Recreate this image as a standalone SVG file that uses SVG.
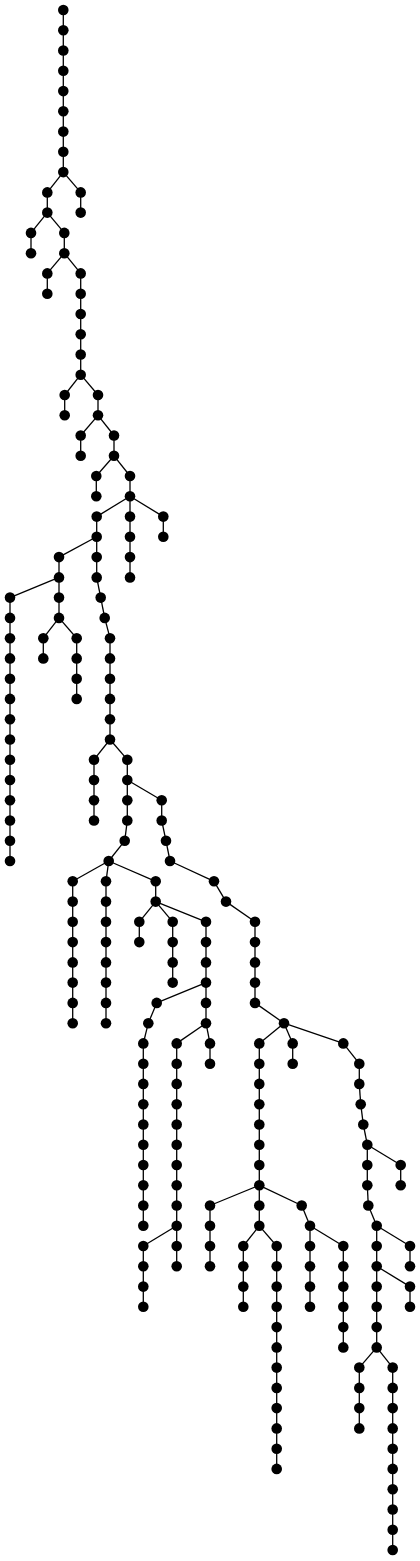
<svg xmlns="http://www.w3.org/2000/svg" width="420" height="1561" viewBox="0 0 420 1561">
<style>
#edges path{stroke:#000;stroke-width:1.3;fill:none}
.nodes circle{fill:#000;stroke:none}
</style>
<rect width="420" height="1561" fill="#fff"/>
<g id="edges">
<path d="M63.3 10V30.3"/><path d="M63.3 30.3V50.5"/><path d="M63.3 50.5V70.8"/><path d="M63.3 70.8V91.1"/><path d="M63.3 91.1V111.3"/><path d="M63.3 111.3V131.6"/><path d="M63.3 131.6V151.8"/><path d="M63.3 151.8V172.1"/>
<path d="M63.3 172.1L80.7 192.4"/><path d="M80.7 192.4V212.6"/>
<path d="M63.3 172.1L47.3 192.4"/><path d="M47.3 192.4V212.6"/>
<path d="M47.3 212.6L31 232.9"/><path d="M31 232.9V253.2"/>
<path d="M47.3 212.6L64.3 232.9"/><path d="M64.3 232.9V253.2"/>
<path d="M64.3 253.2L47.3 273.4"/><path d="M47.3 273.4V293.7"/>
<path d="M64.3 253.2L80.7 273.4"/><path d="M80.7 273.4V293.7"/><path d="M80.7 293.7V314"/><path d="M80.7 314V334.2"/><path d="M80.7 334.2V354.5"/><path d="M80.7 354.5V374.7"/>
<path d="M80.7 374.7L64.7 395"/><path d="M64.7 395V415.3"/>
<path d="M80.7 374.7L98 395"/><path d="M98 395V415.3"/>
<path d="M98 415.3L80.7 435.5"/><path d="M80.7 435.5V455.8"/>
<path d="M98 415.3L114 435.5"/><path d="M114 435.5V455.8"/>
<path d="M114 455.8L96.3 476"/><path d="M96.3 476V496.3"/>
<path d="M114 455.8L130 476"/><path d="M130 476V496.3"/>
<path d="M130 496.3L163.3 516.6"/><path d="M163.3 516.6V536.8"/>
<path d="M130 496.3V516.6"/><path d="M130 516.6V536.8"/><path d="M130 536.8V557.1"/><path d="M130 557.1V577.4"/>
<path d="M130 496.3L96.7 516.6"/><path d="M96.7 516.6V536.8"/>
<path d="M96.7 536.8L59 557.1"/><path d="M59 557.1V577.4"/>
<path d="M59 577.4L10 597.6"/><path d="M10 597.6V617.9"/><path d="M10 617.9V638.2"/><path d="M10 638.2V658.4"/><path d="M10 658.4V678.7"/><path d="M10 678.7V698.9"/><path d="M10 698.9V719.2"/><path d="M10 719.2V739.5"/><path d="M10 739.5V759.7"/><path d="M10 759.7V780"/><path d="M10 780V800.3"/><path d="M10 800.3V820.5"/><path d="M10 820.5V840.8"/><path d="M10 840.8V861"/>
<path d="M59 577.4V597.6"/><path d="M59 597.6V617.9"/>
<path d="M59 617.9L43.3 638.2"/><path d="M43.3 638.2V658.4"/>
<path d="M59 617.9L76.7 638.2"/><path d="M76.7 638.2V658.4"/><path d="M76.7 658.4V678.7"/><path d="M76.7 678.7V698.9"/>
<path d="M96.7 536.8V557.1"/><path d="M96.7 557.1V577.4"/><path d="M96.7 577.4L100.7 597.6"/><path d="M100.7 597.6L104.7 617.9"/><path d="M104.7 617.9L110 638.2"/>
<path d="M110 638.2V658.4"/><path d="M110 658.4V678.7"/><path d="M110 678.7V698.9"/><path d="M110 698.9V719.2"/><path d="M110 719.2V739.5"/>
<path d="M110 739.5L94 759.7"/><path d="M94 759.7V780"/><path d="M94 780V800.3"/><path d="M94 800.3V820.5"/>
<path d="M110 739.5L127.3 759.7"/><path d="M127.3 759.7V780"/>
<path d="M127.3 780V800.3"/><path d="M127.3 800.3V820.5"/><path d="M127.3 820.5L124.7 840.8"/><path d="M124.7 840.8L108.7 861"/>
<path d="M127.3 780L161.7 800.3"/><path d="M161.7 800.3V820.5"/><path d="M161.7 820.5L166 840.8"/><path d="M166 840.8L170 861"/><path d="M170 861L214 881.3"/><path d="M214 881.3L226 901.6"/><path d="M226 901.6L255 921.8"/>
<path d="M255 921.8V942.1"/><path d="M255 942.1V962.4"/><path d="M255 962.4V982.6"/><path d="M255 982.6V1002.9"/><path d="M255 1002.9L284 1023.2"/>
<path d="M108.7 861L72.7 881.3"/><path d="M72.7 881.3V901.6"/><path d="M72.7 901.6V921.8"/><path d="M72.7 921.8V942.1"/><path d="M72.7 942.1V962.4"/><path d="M72.7 962.4V982.6"/><path d="M72.7 982.6V1002.9"/><path d="M72.7 1002.9V1023.2"/>
<path d="M108.7 861L106 881.3"/><path d="M106 881.3V901.6"/><path d="M106 901.6V921.8"/><path d="M106 921.8V942.1"/><path d="M106 942.1V962.4"/><path d="M106 962.4V982.6"/><path d="M106 982.6V1002.9"/><path d="M106 1002.9V1023.2"/>
<path d="M108.7 861L155.7 881.3"/><path d="M155.7 881.3V901.6"/>
<path d="M155.7 901.6L139.3 921.8"/><path d="M139.3 921.8V942.1"/>
<path d="M155.7 901.6L172.7 921.8"/><path d="M172.7 921.8V942.1"/><path d="M172.7 942.1V962.4"/><path d="M172.7 962.4V982.6"/>
<path d="M155.7 901.6L206 921.8"/><path d="M206 921.8V942.1"/><path d="M206 942.1V962.4"/><path d="M206 962.4V982.6"/>
<path d="M206 982.6L156.7 1002.9"/><path d="M156.7 1002.9L148.3 1023.2"/><path d="M148.3 1023.2L143.3 1043.4"/>
<path d="M143.3 1043.4V1063.7"/><path d="M143.3 1063.7V1083.9"/><path d="M143.3 1083.9V1104.2"/><path d="M143.3 1104.2V1124.5"/><path d="M143.3 1124.5V1144.7"/><path d="M143.3 1144.7V1165"/><path d="M143.3 1165V1185.3"/><path d="M143.3 1185.3V1205.5"/><path d="M143.3 1205.5V1225.8"/>
<path d="M206 982.6V1002.9"/><path d="M206 1002.9V1023.2"/>
<path d="M206 1023.2L210 1043.4"/><path d="M210 1043.4V1063.7"/>
<path d="M206 1023.2L176.7 1043.4"/><path d="M176.7 1043.4V1063.7"/><path d="M176.7 1063.7V1083.9"/><path d="M176.7 1083.9V1104.2"/><path d="M176.7 1104.2V1124.5"/><path d="M176.7 1124.5V1144.7"/><path d="M176.7 1144.7V1165"/><path d="M176.7 1165V1185.3"/><path d="M176.7 1185.3V1205.5"/><path d="M176.7 1205.5V1225.8"/>
<path d="M176.7 1225.8L143.3 1246"/><path d="M143.3 1246V1266.3"/><path d="M143.3 1266.3V1286.6"/><path d="M143.3 1286.6V1306.8"/>
<path d="M176.7 1225.8V1246"/><path d="M176.7 1246V1266.3"/>
<path d="M284 1023.2L259.3 1043.4"/><path d="M259.3 1043.4V1063.7"/><path d="M259.3 1063.7V1083.9"/><path d="M259.3 1083.9V1104.2"/><path d="M259.3 1104.2V1124.5"/><path d="M259.3 1124.5V1144.7"/><path d="M259.3 1144.7V1165"/><path d="M259.3 1165V1185.3"/>
<path d="M284 1023.2L292.7 1043.4"/><path d="M292.7 1043.4V1063.7"/>
<path d="M284 1023.2L343.3 1043.4"/><path d="M343.3 1043.4L359.3 1063.7"/><path d="M359.3 1063.7V1083.9"/><path d="M359.3 1083.9L360.7 1104.2"/><path d="M360.7 1104.2L363.3 1124.5"/><path d="M363.3 1124.5L367.3 1144.7"/>
<path d="M259.3 1185.3L210 1205.5"/><path d="M210 1205.5V1225.8"/><path d="M210 1225.8V1246"/><path d="M210 1246V1266.3"/>
<path d="M259.3 1185.3V1205.5"/><path d="M259.3 1205.5V1225.8"/>
<path d="M259.3 1185.3L301.7 1205.5"/><path d="M301.7 1205.5L310 1225.8"/>
<path d="M259.3 1225.8L243.3 1246"/><path d="M243.3 1246V1266.3"/><path d="M243.3 1266.3V1286.6"/><path d="M243.3 1286.6V1306.8"/>
<path d="M259.3 1225.8L276.7 1246"/><path d="M276.7 1246V1266.3"/><path d="M276.7 1266.3V1286.6"/><path d="M276.7 1286.6V1306.8"/><path d="M276.7 1306.8V1327.1"/><path d="M276.7 1327.1V1347.4"/><path d="M276.7 1347.4V1367.6"/><path d="M276.7 1367.6V1387.9"/><path d="M276.7 1387.9V1408.1"/><path d="M276.7 1408.1V1428.4"/><path d="M276.7 1428.4V1448.7"/><path d="M276.7 1448.7V1468.9"/>
<path d="M310 1225.8V1246"/><path d="M310 1246V1266.3"/><path d="M310 1266.3V1286.6"/><path d="M310 1286.6V1306.8"/>
<path d="M310 1225.8L343.3 1246"/><path d="M343.3 1246V1266.3"/><path d="M343.3 1266.3V1286.6"/><path d="M343.3 1286.6V1306.8"/><path d="M343.3 1306.8V1327.1"/><path d="M343.3 1327.1V1347.4"/>
<path d="M367.3 1144.7L400.7 1165"/><path d="M400.7 1165V1185.3"/>
<path d="M367.3 1144.7V1165"/><path d="M367.3 1165V1185.3"/><path d="M367.3 1185.3L368.3 1205.5"/><path d="M368.3 1205.5L376.7 1225.8"/>
<path d="M376.7 1225.8L410 1246"/><path d="M410 1246V1266.3"/>
<path d="M376.7 1225.8V1246"/><path d="M376.7 1246V1266.3"/>
<path d="M376.7 1266.3L410 1286.6"/><path d="M410 1286.6V1306.8"/>
<path d="M376.7 1266.3V1286.6"/><path d="M376.7 1286.6V1306.8"/><path d="M376.7 1306.8V1327.1"/><path d="M376.7 1327.1V1347.4"/>
<path d="M376.7 1347.4L359.3 1367.6"/><path d="M359.3 1367.6V1387.9"/><path d="M359.3 1387.9V1408.1"/><path d="M359.3 1408.1V1428.4"/>
<path d="M376.7 1347.4L392.7 1367.6"/><path d="M392.7 1367.6V1387.9"/><path d="M392.7 1387.9V1408.1"/><path d="M392.7 1408.1V1428.4"/><path d="M392.7 1428.4V1448.7"/><path d="M392.7 1448.7V1468.9"/><path d="M392.7 1468.9V1489.2"/><path d="M392.7 1489.2V1509.5"/><path d="M392.7 1509.5V1529.7"/><path d="M392.7 1529.7V1550"/>
</g>
<g class="nodes">
<g id="nA0"><circle cx="63.3" cy="10" r="5.3"/></g>
<g id="nA1"><circle cx="63.3" cy="30.3" r="5.3"/></g>
<g id="nA2"><circle cx="63.3" cy="50.5" r="5.3"/></g>
<g id="nA3"><circle cx="63.3" cy="70.8" r="5.3"/></g>
<g id="nA4"><circle cx="63.3" cy="91.1" r="5.3"/></g>
<g id="nA5"><circle cx="63.3" cy="111.3" r="5.3"/></g>
<g id="nA6"><circle cx="63.3" cy="131.6" r="5.3"/></g>
<g id="nA7"><circle cx="63.3" cy="151.8" r="5.3"/></g>
<g id="nA8"><circle cx="63.3" cy="172.1" r="5.3"/></g>
<g id="nB0"><circle cx="80.7" cy="192.4" r="5.3"/></g>
<g id="nB1"><circle cx="80.7" cy="212.6" r="5.3"/></g>
<g id="nC0"><circle cx="47.3" cy="192.4" r="5.3"/></g>
<g id="nC1"><circle cx="47.3" cy="212.6" r="5.3"/></g>
<g id="nD0"><circle cx="31" cy="232.9" r="5.3"/></g>
<g id="nD1"><circle cx="31" cy="253.2" r="5.3"/></g>
<g id="nE0"><circle cx="64.3" cy="232.9" r="5.3"/></g>
<g id="nE1"><circle cx="64.3" cy="253.2" r="5.3"/></g>
<g id="nF0"><circle cx="47.3" cy="273.4" r="5.3"/></g>
<g id="nF1"><circle cx="47.3" cy="293.7" r="5.3"/></g>
<g id="nG0"><circle cx="80.7" cy="273.4" r="5.3"/></g>
<g id="nG1"><circle cx="80.7" cy="293.7" r="5.3"/></g>
<g id="nG2"><circle cx="80.7" cy="314" r="5.3"/></g>
<g id="nG3"><circle cx="80.7" cy="334.2" r="5.3"/></g>
<g id="nG4"><circle cx="80.7" cy="354.5" r="5.3"/></g>
<g id="nG5"><circle cx="80.7" cy="374.7" r="5.3"/></g>
<g id="nH0"><circle cx="64.7" cy="395" r="5.3"/></g>
<g id="nH1"><circle cx="64.7" cy="415.3" r="5.3"/></g>
<g id="nI0"><circle cx="98" cy="395" r="5.3"/></g>
<g id="nI1"><circle cx="98" cy="415.3" r="5.3"/></g>
<g id="nJ0"><circle cx="80.7" cy="435.5" r="5.3"/></g>
<g id="nJ1"><circle cx="80.7" cy="455.8" r="5.3"/></g>
<g id="nK0"><circle cx="114" cy="435.5" r="5.3"/></g>
<g id="nK1"><circle cx="114" cy="455.8" r="5.3"/></g>
<g id="nL0"><circle cx="96.3" cy="476" r="5.3"/></g>
<g id="nL1"><circle cx="96.3" cy="496.3" r="5.3"/></g>
<g id="nM0"><circle cx="130" cy="476" r="5.3"/></g>
<g id="nM1"><circle cx="130" cy="496.3" r="5.3"/></g>
<g id="nN0"><circle cx="163.3" cy="516.6" r="5.3"/></g>
<g id="nN1"><circle cx="163.3" cy="536.8" r="5.3"/></g>
<g id="nO0"><circle cx="130" cy="516.6" r="5.3"/></g>
<g id="nO1"><circle cx="130" cy="536.8" r="5.3"/></g>
<g id="nO2"><circle cx="130" cy="557.1" r="5.3"/></g>
<g id="nO3"><circle cx="130" cy="577.4" r="5.3"/></g>
<g id="nP0"><circle cx="96.7" cy="516.6" r="5.3"/></g>
<g id="nP1"><circle cx="96.7" cy="536.8" r="5.3"/></g>
<g id="nQ0"><circle cx="59" cy="557.1" r="5.3"/></g>
<g id="nQ1"><circle cx="59" cy="577.4" r="5.3"/></g>
<g id="nR0"><circle cx="10" cy="597.6" r="5.3"/></g>
<g id="nR1"><circle cx="10" cy="617.9" r="5.3"/></g>
<g id="nR2"><circle cx="10" cy="638.2" r="5.3"/></g>
<g id="nR3"><circle cx="10" cy="658.4" r="5.3"/></g>
<g id="nR4"><circle cx="10" cy="678.7" r="5.3"/></g>
<g id="nR5"><circle cx="10" cy="698.9" r="5.3"/></g>
<g id="nR6"><circle cx="10" cy="719.2" r="5.3"/></g>
<g id="nR7"><circle cx="10" cy="739.5" r="5.3"/></g>
<g id="nR8"><circle cx="10" cy="759.7" r="5.3"/></g>
<g id="nR9"><circle cx="10" cy="780" r="5.3"/></g>
<g id="nR10"><circle cx="10" cy="800.3" r="5.3"/></g>
<g id="nR11"><circle cx="10" cy="820.5" r="5.3"/></g>
<g id="nR12"><circle cx="10" cy="840.8" r="5.3"/></g>
<g id="nR13"><circle cx="10" cy="861" r="5.3"/></g>
<g id="nS0"><circle cx="59" cy="597.6" r="5.3"/></g>
<g id="nS1"><circle cx="59" cy="617.9" r="5.3"/></g>
<g id="nT0"><circle cx="43.3" cy="638.2" r="5.3"/></g>
<g id="nT1"><circle cx="43.3" cy="658.4" r="5.3"/></g>
<g id="nU0"><circle cx="76.7" cy="638.2" r="5.3"/></g>
<g id="nU1"><circle cx="76.7" cy="658.4" r="5.3"/></g>
<g id="nU2"><circle cx="76.7" cy="678.7" r="5.3"/></g>
<g id="nU3"><circle cx="76.7" cy="698.9" r="5.3"/></g>
<g id="nV0"><circle cx="96.7" cy="557.1" r="5.3"/></g>
<g id="nV1"><circle cx="96.7" cy="577.4" r="5.3"/></g>
<g id="nV2"><circle cx="100.7" cy="597.6" r="5.3"/></g>
<g id="nV3"><circle cx="104.7" cy="617.9" r="5.3"/></g>
<g id="nV4"><circle cx="110" cy="638.2" r="5.3"/></g>
<g id="nV5"><circle cx="110" cy="658.4" r="5.3"/></g>
<g id="nV6"><circle cx="110" cy="678.7" r="5.3"/></g>
<g id="nV7"><circle cx="110" cy="698.9" r="5.3"/></g>
<g id="nV8"><circle cx="110" cy="719.2" r="5.3"/></g>
<g id="nV9"><circle cx="110" cy="739.5" r="5.3"/></g>
<g id="nW0"><circle cx="94" cy="759.7" r="5.3"/></g>
<g id="nW1"><circle cx="94" cy="780" r="5.3"/></g>
<g id="nW2"><circle cx="94" cy="800.3" r="5.3"/></g>
<g id="nW3"><circle cx="94" cy="820.5" r="5.3"/></g>
<g id="nX0"><circle cx="127.3" cy="759.7" r="5.3"/></g>
<g id="nX1"><circle cx="127.3" cy="780" r="5.3"/></g>
<g id="nY0"><circle cx="127.3" cy="800.3" r="5.3"/></g>
<g id="nY1"><circle cx="127.3" cy="820.5" r="5.3"/></g>
<g id="nY2"><circle cx="124.7" cy="840.8" r="5.3"/></g>
<g id="nY3"><circle cx="108.7" cy="861" r="5.3"/></g>
<g id="nZ0"><circle cx="161.7" cy="800.3" r="5.3"/></g>
<g id="nZ1"><circle cx="161.7" cy="820.5" r="5.3"/></g>
<g id="nZ2"><circle cx="166" cy="840.8" r="5.3"/></g>
<g id="nZ3"><circle cx="170" cy="861" r="5.3"/></g>
<g id="nZ4"><circle cx="214" cy="881.3" r="5.3"/></g>
<g id="nZ5"><circle cx="226" cy="901.6" r="5.3"/></g>
<g id="nZ6"><circle cx="255" cy="921.8" r="5.3"/></g>
<g id="nZ7"><circle cx="255" cy="942.1" r="5.3"/></g>
<g id="nZ8"><circle cx="255" cy="962.4" r="5.3"/></g>
<g id="nZ9"><circle cx="255" cy="982.6" r="5.3"/></g>
<g id="nZ10"><circle cx="255" cy="1002.9" r="5.3"/></g>
<g id="nZ11"><circle cx="284" cy="1023.2" r="5.3"/></g>
<g id="nAA0"><circle cx="72.7" cy="881.3" r="5.3"/></g>
<g id="nAA1"><circle cx="72.7" cy="901.6" r="5.3"/></g>
<g id="nAA2"><circle cx="72.7" cy="921.8" r="5.3"/></g>
<g id="nAA3"><circle cx="72.7" cy="942.1" r="5.3"/></g>
<g id="nAA4"><circle cx="72.7" cy="962.4" r="5.3"/></g>
<g id="nAA5"><circle cx="72.7" cy="982.6" r="5.3"/></g>
<g id="nAA6"><circle cx="72.7" cy="1002.9" r="5.3"/></g>
<g id="nAA7"><circle cx="72.7" cy="1023.2" r="5.3"/></g>
<g id="nAB0"><circle cx="106" cy="881.3" r="5.3"/></g>
<g id="nAB1"><circle cx="106" cy="901.6" r="5.3"/></g>
<g id="nAB2"><circle cx="106" cy="921.8" r="5.3"/></g>
<g id="nAB3"><circle cx="106" cy="942.1" r="5.3"/></g>
<g id="nAB4"><circle cx="106" cy="962.4" r="5.3"/></g>
<g id="nAB5"><circle cx="106" cy="982.6" r="5.3"/></g>
<g id="nAB6"><circle cx="106" cy="1002.9" r="5.3"/></g>
<g id="nAB7"><circle cx="106" cy="1023.2" r="5.3"/></g>
<g id="nAC0"><circle cx="155.7" cy="881.3" r="5.3"/></g>
<g id="nAC1"><circle cx="155.7" cy="901.6" r="5.3"/></g>
<g id="nAD0"><circle cx="139.3" cy="921.8" r="5.3"/></g>
<g id="nAD1"><circle cx="139.3" cy="942.1" r="5.3"/></g>
<g id="nAE0"><circle cx="172.7" cy="921.8" r="5.3"/></g>
<g id="nAE1"><circle cx="172.7" cy="942.1" r="5.3"/></g>
<g id="nAE2"><circle cx="172.7" cy="962.4" r="5.3"/></g>
<g id="nAE3"><circle cx="172.7" cy="982.6" r="5.3"/></g>
<g id="nAF0"><circle cx="206" cy="921.8" r="5.3"/></g>
<g id="nAF1"><circle cx="206" cy="942.1" r="5.3"/></g>
<g id="nAF2"><circle cx="206" cy="962.4" r="5.3"/></g>
<g id="nAF3"><circle cx="206" cy="982.6" r="5.3"/></g>
<g id="nAG0"><circle cx="156.7" cy="1002.9" r="5.3"/></g>
<g id="nAG1"><circle cx="148.3" cy="1023.2" r="5.3"/></g>
<g id="nAG2"><circle cx="143.3" cy="1043.4" r="5.3"/></g>
<g id="nAG3"><circle cx="143.3" cy="1063.7" r="5.3"/></g>
<g id="nAG4"><circle cx="143.3" cy="1083.9" r="5.3"/></g>
<g id="nAG5"><circle cx="143.3" cy="1104.2" r="5.3"/></g>
<g id="nAG6"><circle cx="143.3" cy="1124.5" r="5.3"/></g>
<g id="nAG7"><circle cx="143.3" cy="1144.7" r="5.3"/></g>
<g id="nAG8"><circle cx="143.3" cy="1165" r="5.3"/></g>
<g id="nAG9"><circle cx="143.3" cy="1185.3" r="5.3"/></g>
<g id="nAG10"><circle cx="143.3" cy="1205.5" r="5.3"/></g>
<g id="nAG11"><circle cx="143.3" cy="1225.8" r="5.3"/></g>
<g id="nAH0"><circle cx="206" cy="1002.9" r="5.3"/></g>
<g id="nAH1"><circle cx="206" cy="1023.2" r="5.3"/></g>
<g id="nAI0"><circle cx="210" cy="1043.4" r="5.3"/></g>
<g id="nAI1"><circle cx="210" cy="1063.7" r="5.3"/></g>
<g id="nAJ0"><circle cx="176.7" cy="1043.4" r="5.3"/></g>
<g id="nAJ1"><circle cx="176.7" cy="1063.7" r="5.3"/></g>
<g id="nAJ2"><circle cx="176.7" cy="1083.9" r="5.3"/></g>
<g id="nAJ3"><circle cx="176.7" cy="1104.2" r="5.3"/></g>
<g id="nAJ4"><circle cx="176.7" cy="1124.5" r="5.3"/></g>
<g id="nAJ5"><circle cx="176.7" cy="1144.7" r="5.3"/></g>
<g id="nAJ6"><circle cx="176.7" cy="1165" r="5.3"/></g>
<g id="nAJ7"><circle cx="176.7" cy="1185.3" r="5.3"/></g>
<g id="nAJ8"><circle cx="176.7" cy="1205.5" r="5.3"/></g>
<g id="nAJ9"><circle cx="176.7" cy="1225.8" r="5.3"/></g>
<g id="nAK0"><circle cx="143.3" cy="1246" r="5.3"/></g>
<g id="nAK1"><circle cx="143.3" cy="1266.3" r="5.3"/></g>
<g id="nAK2"><circle cx="143.3" cy="1286.6" r="5.3"/></g>
<g id="nAK3"><circle cx="143.3" cy="1306.8" r="5.3"/></g>
<g id="nAL0"><circle cx="176.7" cy="1246" r="5.3"/></g>
<g id="nAL1"><circle cx="176.7" cy="1266.3" r="5.3"/></g>
<g id="nAM0"><circle cx="259.3" cy="1043.4" r="5.3"/></g>
<g id="nAM1"><circle cx="259.3" cy="1063.7" r="5.3"/></g>
<g id="nAM2"><circle cx="259.3" cy="1083.9" r="5.3"/></g>
<g id="nAM3"><circle cx="259.3" cy="1104.2" r="5.3"/></g>
<g id="nAM4"><circle cx="259.3" cy="1124.5" r="5.3"/></g>
<g id="nAM5"><circle cx="259.3" cy="1144.7" r="5.3"/></g>
<g id="nAM6"><circle cx="259.3" cy="1165" r="5.3"/></g>
<g id="nAM7"><circle cx="259.3" cy="1185.3" r="5.3"/></g>
<g id="nAN0"><circle cx="292.7" cy="1043.4" r="5.3"/></g>
<g id="nAN1"><circle cx="292.7" cy="1063.7" r="5.3"/></g>
<g id="nAO0"><circle cx="343.3" cy="1043.4" r="5.3"/></g>
<g id="nAO1"><circle cx="359.3" cy="1063.7" r="5.3"/></g>
<g id="nAO2"><circle cx="359.3" cy="1083.9" r="5.3"/></g>
<g id="nAO3"><circle cx="360.7" cy="1104.2" r="5.3"/></g>
<g id="nAO4"><circle cx="363.3" cy="1124.5" r="5.3"/></g>
<g id="nAO5"><circle cx="367.3" cy="1144.7" r="5.3"/></g>
<g id="nAP0"><circle cx="210" cy="1205.5" r="5.3"/></g>
<g id="nAP1"><circle cx="210" cy="1225.8" r="5.3"/></g>
<g id="nAP2"><circle cx="210" cy="1246" r="5.3"/></g>
<g id="nAP3"><circle cx="210" cy="1266.3" r="5.3"/></g>
<g id="nAQ0"><circle cx="259.3" cy="1205.5" r="5.3"/></g>
<g id="nAQ1"><circle cx="259.3" cy="1225.8" r="5.3"/></g>
<g id="nAR0"><circle cx="301.7" cy="1205.5" r="5.3"/></g>
<g id="nAR1"><circle cx="310" cy="1225.8" r="5.3"/></g>
<g id="nAS0"><circle cx="243.3" cy="1246" r="5.3"/></g>
<g id="nAS1"><circle cx="243.3" cy="1266.3" r="5.3"/></g>
<g id="nAS2"><circle cx="243.3" cy="1286.6" r="5.3"/></g>
<g id="nAS3"><circle cx="243.3" cy="1306.8" r="5.3"/></g>
<g id="nAT0"><circle cx="276.7" cy="1246" r="5.3"/></g>
<g id="nAT1"><circle cx="276.7" cy="1266.3" r="5.3"/></g>
<g id="nAT2"><circle cx="276.7" cy="1286.6" r="5.3"/></g>
<g id="nAT3"><circle cx="276.7" cy="1306.8" r="5.3"/></g>
<g id="nAT4"><circle cx="276.7" cy="1327.1" r="5.3"/></g>
<g id="nAT5"><circle cx="276.7" cy="1347.4" r="5.3"/></g>
<g id="nAT6"><circle cx="276.7" cy="1367.6" r="5.3"/></g>
<g id="nAT7"><circle cx="276.7" cy="1387.9" r="5.3"/></g>
<g id="nAT8"><circle cx="276.7" cy="1408.1" r="5.3"/></g>
<g id="nAT9"><circle cx="276.7" cy="1428.4" r="5.3"/></g>
<g id="nAT10"><circle cx="276.7" cy="1448.7" r="5.3"/></g>
<g id="nAT11"><circle cx="276.7" cy="1468.9" r="5.3"/></g>
<g id="nAU0"><circle cx="310" cy="1246" r="5.3"/></g>
<g id="nAU1"><circle cx="310" cy="1266.3" r="5.3"/></g>
<g id="nAU2"><circle cx="310" cy="1286.6" r="5.3"/></g>
<g id="nAU3"><circle cx="310" cy="1306.8" r="5.3"/></g>
<g id="nAV0"><circle cx="343.3" cy="1246" r="5.3"/></g>
<g id="nAV1"><circle cx="343.3" cy="1266.3" r="5.3"/></g>
<g id="nAV2"><circle cx="343.3" cy="1286.6" r="5.3"/></g>
<g id="nAV3"><circle cx="343.3" cy="1306.8" r="5.3"/></g>
<g id="nAV4"><circle cx="343.3" cy="1327.1" r="5.3"/></g>
<g id="nAV5"><circle cx="343.3" cy="1347.4" r="5.3"/></g>
<g id="nAW0"><circle cx="400.7" cy="1165" r="5.3"/></g>
<g id="nAW1"><circle cx="400.7" cy="1185.3" r="5.3"/></g>
<g id="nAX0"><circle cx="367.3" cy="1165" r="5.3"/></g>
<g id="nAX1"><circle cx="367.3" cy="1185.3" r="5.3"/></g>
<g id="nAX2"><circle cx="368.3" cy="1205.5" r="5.3"/></g>
<g id="nAX3"><circle cx="376.7" cy="1225.8" r="5.3"/></g>
<g id="nAY0"><circle cx="410" cy="1246" r="5.3"/></g>
<g id="nAY1"><circle cx="410" cy="1266.3" r="5.3"/></g>
<g id="nAZ0"><circle cx="376.7" cy="1246" r="5.3"/></g>
<g id="nAZ1"><circle cx="376.7" cy="1266.3" r="5.3"/></g>
<g id="nBA0"><circle cx="410" cy="1286.6" r="5.3"/></g>
<g id="nBA1"><circle cx="410" cy="1306.8" r="5.3"/></g>
<g id="nBB0"><circle cx="376.7" cy="1286.6" r="5.3"/></g>
<g id="nBB1"><circle cx="376.7" cy="1306.8" r="5.3"/></g>
<g id="nBB2"><circle cx="376.7" cy="1327.1" r="5.3"/></g>
<g id="nBB3"><circle cx="376.7" cy="1347.4" r="5.3"/></g>
<g id="nBC0"><circle cx="359.3" cy="1367.6" r="5.3"/></g>
<g id="nBC1"><circle cx="359.3" cy="1387.9" r="5.3"/></g>
<g id="nBC2"><circle cx="359.3" cy="1408.1" r="5.3"/></g>
<g id="nBC3"><circle cx="359.3" cy="1428.4" r="5.3"/></g>
<g id="nBD0"><circle cx="392.7" cy="1367.6" r="5.3"/></g>
<g id="nBD1"><circle cx="392.7" cy="1387.9" r="5.3"/></g>
<g id="nBD2"><circle cx="392.7" cy="1408.1" r="5.3"/></g>
<g id="nBD3"><circle cx="392.7" cy="1428.4" r="5.3"/></g>
<g id="nBD4"><circle cx="392.7" cy="1448.7" r="5.3"/></g>
<g id="nBD5"><circle cx="392.7" cy="1468.9" r="5.3"/></g>
<g id="nBD6"><circle cx="392.7" cy="1489.2" r="5.3"/></g>
<g id="nBD7"><circle cx="392.7" cy="1509.5" r="5.3"/></g>
<g id="nBD8"><circle cx="392.7" cy="1529.7" r="5.3"/></g>
<g id="nBD9"><circle cx="392.7" cy="1550" r="5.3"/></g>
</g>
</svg>
